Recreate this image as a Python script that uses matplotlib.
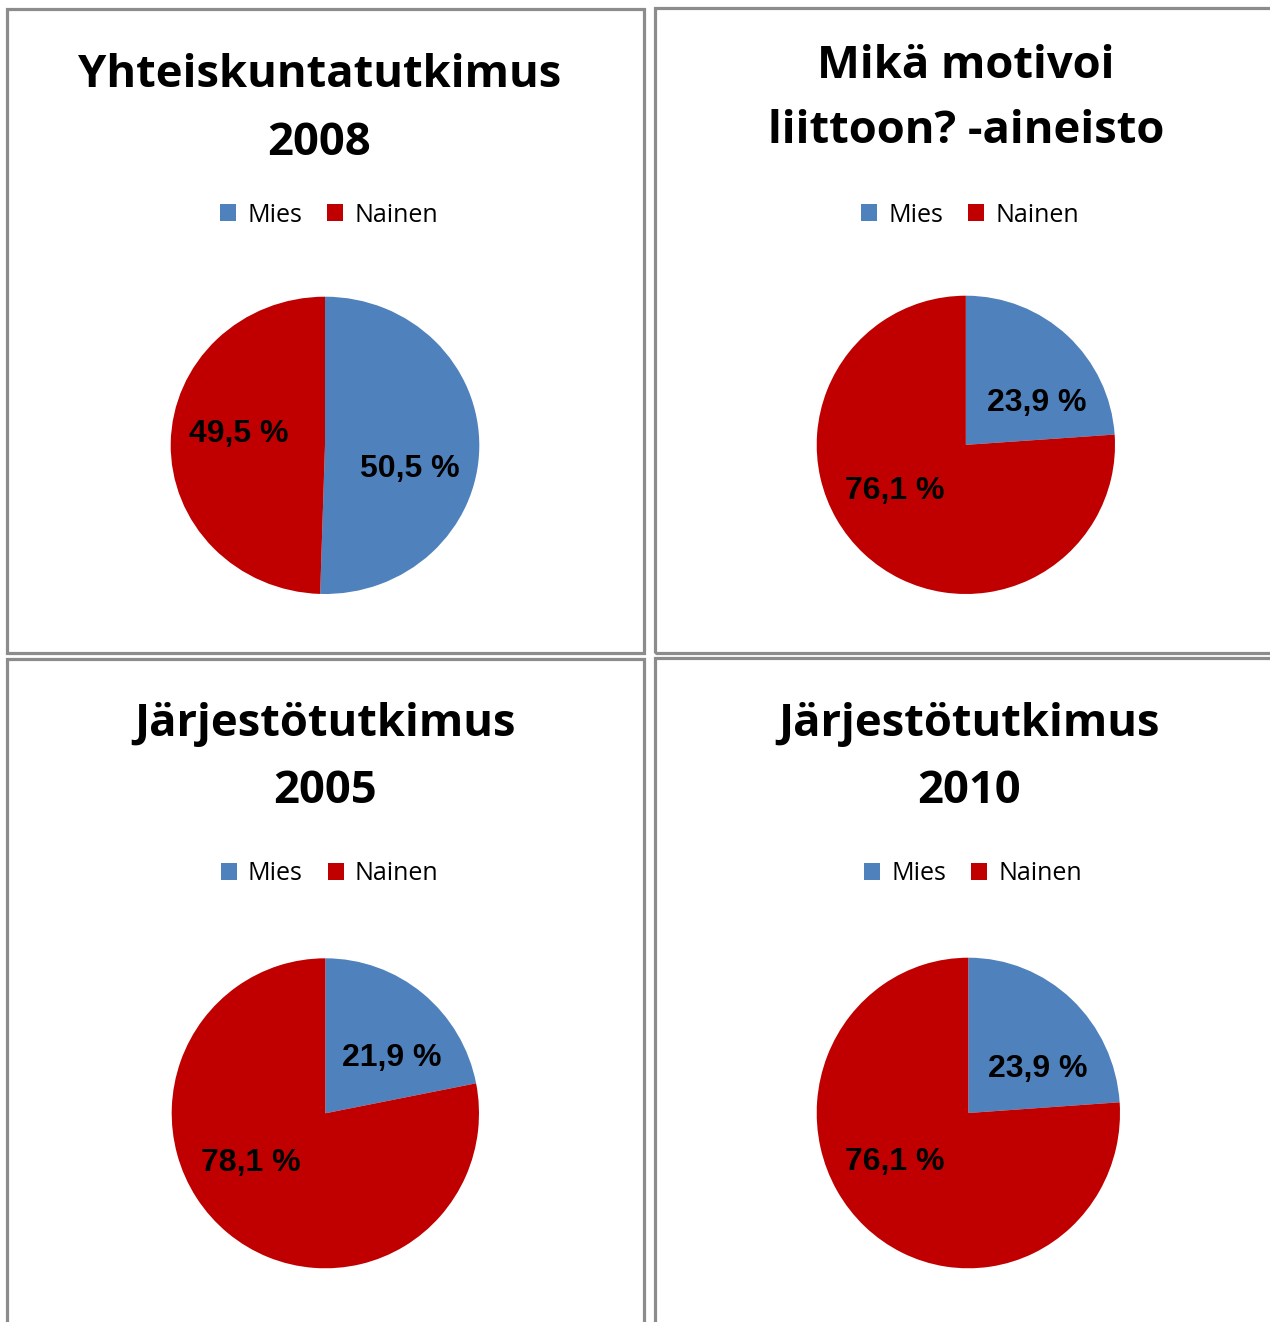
import matplotlib
matplotlib.use("Agg")
import matplotlib.pyplot as plt
from matplotlib.patches import Rectangle, Patch

# ---- data ----
categories = ["Mies", "Nainen"]
titles = [
    ["Yhteiskuntatutkimus", "2008"],
    ["Mikä motivoi", "liittoon? -aineisto"],
    ["Järjestötutkimus", "2005"],
    ["Järjestötutkimus", "2010"],
]
mies_pct = [50.5, 23.9, 21.9, 23.9]
nainen_pct = [49.5, 76.1, 78.1, 76.1]
colors = ["#4F81BD", "#C00000"]

W, H = 1270, 1322
fig = plt.figure(figsize=(W / 100, H / 100), dpi=100)

def fx(x):
    return x / W

def fy(y):
    return 1 - y / H

# ---- layout (pixel coords, top-down) ----
borders = [(7, 9, 644, 653), (655, 8, 1290, 653), (7, 659, 644, 1340), (655, 658, 1290, 1340)]
pie_boxes = [(170.7, 296.7, 479.3, 594.0), (816.7, 295.7, 1115.0, 594.0),
             (171.7, 958.3, 479.0, 1268.3), (816.7, 957.7, 1120.0, 1268.3)]
title_lines = [((320, 87), (319.5, 155)), ((966, 78), (966, 143)),
               ((325, 736), (325, 803)), ((969, 736), (969, 803))]
legend_centers = [(329, 215), (970, 215), (329.5, 874), (973, 874)]
label_offsets = [((0.551, -0.151), (-0.561, 0.089)),
                 ((0.473, 0.291), (-0.477, -0.302)),
                 ((0.435, 0.365), (-0.484, -0.312)),
                 ((0.459, 0.292), (-0.483, -0.307))]

for (x0, y0, x1, y1) in borders:
    fig.patches.append(Rectangle((fx(x0), fy(y1)), fx(x1) - fx(x0), fy(y0) - fy(y1),
                                 transform=fig.transFigure, fill=False,
                                 edgecolor="#8C8C8C", linewidth=2.3, zorder=0))

for i in range(4):
    x0, y0, x1, y1 = pie_boxes[i]
    ax = fig.add_axes([fx(x0), fy(y1), fx(x1) - fx(x0), fy(y0) - fy(y1)])
    vals = [mies_pct[i], nainen_pct[i]]
    ax.pie(vals, colors=colors, startangle=90, counterclock=False, radius=1,
           wedgeprops=dict(linewidth=0))
    ax.set_aspect("auto")
    ax.set_xlim(-1, 1)
    ax.set_ylim(-1, 1)
    ax.axis("off")
    for v, (ox, oy) in zip(vals, label_offsets[i]):
        ax.text(ox, oy - 0.01, f"{v:.1f} %".replace(".", ","), ha="center", va="center",
                fontsize=23, fontweight="bold", family="Liberation Sans", color="black")

    for line, (tx, ty) in zip(titles[i], title_lines[i]):
        fig.text(fx(tx), fy(ty), line, ha="center", va="baseline",
                 fontsize=32.7, fontweight="bold", family="Open Sans", color="black")

    handles = [Patch(facecolor=c, edgecolor="none") for c in colors]
    lx, ly = legend_centers[i]
    fig.legend(handles, categories, loc="center", bbox_to_anchor=(fx(lx), fy(ly)),
               ncol=2, frameon=False, prop=dict(family="Open Sans", size=18),
               handlelength=0.64, handleheight=0.64, handletextpad=0.45,
               columnspacing=1.0, borderpad=0, borderaxespad=0)

fig.savefig("out.png", dpi=100)
